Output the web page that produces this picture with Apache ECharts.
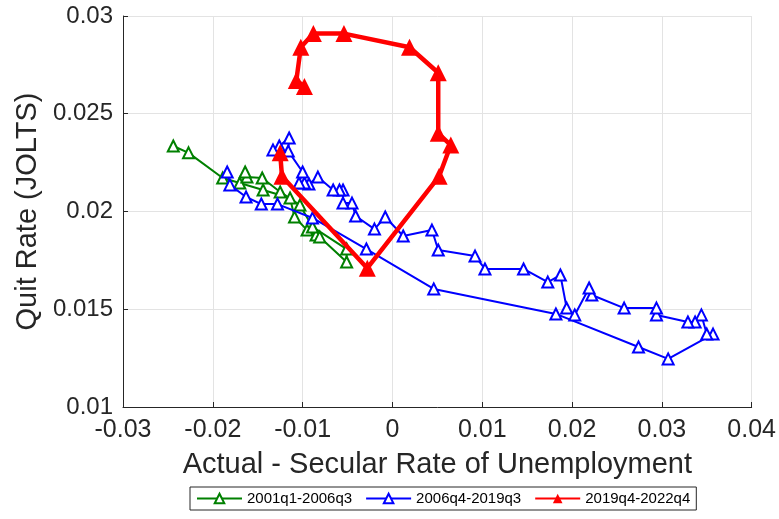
<!DOCTYPE html>
<html>
<head>
<meta charset="utf-8">
<script src="https://cdn.jsdelivr.net/npm/echarts@6/dist/echarts.min.js"></script>
<style>
  html, body { margin: 0; padding: 0; background: #ffffff; }
  #chart { width: 779px; height: 519px; }
</style>
</head>
<body>
<div id="chart"></div>
<script>
// Unemployment gap (actual - secular) vs. JOLTS quit rate, by period
const seriesNames = ['2001q1-2006q3', '2006q4-2019q3', '2019q4-2022q4'];

const gap2001 = [-0.0244, -0.0227, -0.0189, -0.0170, -0.0144, -0.0114, -0.0109, -0.0095, -0.0085, -0.0081,
                 -0.0051, -0.0051, -0.0089, -0.0103, -0.0125, -0.0145, -0.0162, -0.0164];
const quit2001 = [0.02335, 0.0230, 0.02171, 0.02146, 0.02110, 0.02069, 0.01972, 0.01905, 0.01880, 0.01870,
                  0.01742, 0.01808, 0.01921, 0.02033, 0.02100, 0.02171, 0.02176, 0.02202];

const gap2006 = [-0.0184, -0.0181, -0.0163, -0.0146, -0.0128, -0.0089, -0.0029, 0.0046, 0.0182, 0.0274,
                 0.0307, 0.0357, 0.0350, 0.0344, 0.0337, 0.0329, 0.0294, 0.0294, 0.0258, 0.0222,
                 0.0219, 0.0203, 0.0194, 0.0187, 0.0173, 0.0146, 0.0103, 0.0092, 0.0051, 0.0044,
                 0.0012, -0.0008, -0.0020, -0.0041, -0.0045, -0.0055, -0.0055, -0.0059, -0.0066, -0.0083,
                 -0.0093, -0.0098, -0.0104, -0.0100, -0.0116, -0.0115, -0.0126, -0.0133];
const quit2006 = [0.02202, 0.02136, 0.02074, 0.02038, 0.02038, 0.01967, 0.01808, 0.01604, 0.01476, 0.01307,
                  0.01246, 0.01373, 0.01373, 0.01471, 0.01435, 0.01435, 0.01471, 0.01506, 0.01506, 0.01573,
                  0.01609, 0.01471, 0.01506, 0.01675, 0.01639, 0.01706, 0.01706, 0.01772, 0.01803, 0.01905,
                  0.01875, 0.01972, 0.01910, 0.01977, 0.02043, 0.02043, 0.02110, 0.02110, 0.02110, 0.02176,
                  0.02141, 0.02146, 0.02146, 0.02202, 0.02309, 0.02376, 0.02335, 0.02315];

const gap2019 = [-0.0125, -0.0123, -0.0028, 0.0052, 0.0065, 0.0051, 0.0051, 0.0019, -0.0054, -0.0088,
                 -0.0102, -0.0107, -0.0098];
const quit2019 = [0.0230, 0.0218, 0.0171, 0.0218, 0.0234, 0.0240, 0.0271, 0.0284, 0.0291, 0.0291,
                  0.0284, 0.0267, 0.0264];

const xTicks = [-0.03, -0.02, -0.01, 0, 0.01, 0.02, 0.03, 0.04];
const yTicks = [0.01, 0.015, 0.02, 0.025, 0.03];

const pairs = (xs, ys) => xs.map((x, i) => [x, ys[i]]);
const tickText = v => String(parseFloat(v.toFixed(4)));

const FONT = "'Liberation Sans', Arial, Helvetica, sans-serif";
const INK = '#262626';

const chart = echarts.init(document.getElementById('chart'), null, { renderer: 'canvas' });

chart.setOption({
  backgroundColor: '#ffffff',
  animation: false,
  textStyle: { fontFamily: FONT },
  grid: { left: 123, right: 27, top: 16, bottom: 112, containLabel: false },
  xAxis: {
    type: 'value',
    min: xTicks[0], max: xTicks[xTicks.length - 1], interval: 0.01,
    name: 'Actual - Secular Rate of Unemployment',
    nameLocation: 'middle', nameGap: 43,
    nameTextStyle: { fontSize: 29, color: INK, fontFamily: FONT },
    axisLine: { show: true, onZero: false, lineStyle: { color: INK, width: 1 } },
    axisTick: { show: true, inside: true, length: 5, lineStyle: { color: INK } },
    axisLabel: { fontSize: 25, color: INK, margin: 11, formatter: tickText, fontFamily: FONT },
    splitLine: { show: true, lineStyle: { color: '#e3e3e3', width: 1 } }
  },
  yAxis: {
    type: 'value',
    min: yTicks[0], max: yTicks[yTicks.length - 1], interval: 0.005,
    name: 'Quit Rate (JOLTS)',
    nameLocation: 'middle', nameGap: 68, nameRotate: 90,
    nameTextStyle: { fontSize: 29, color: INK, fontFamily: FONT },
    axisLine: { show: true, onZero: false, lineStyle: { color: INK, width: 1 } },
    axisTick: { show: true, inside: true, length: 5, lineStyle: { color: INK } },
    axisLabel: { fontSize: 24, color: INK, margin: 10, formatter: tickText, fontFamily: FONT },
    splitLine: { show: true, lineStyle: { color: '#e3e3e3', width: 1 } }
  },
  legend: {
    data: seriesNames,
    left: 190, top: 487,
    orient: 'horizontal',
    itemWidth: 45, itemHeight: 12, itemGap: 13,
    padding: [4, 6, 4, 6],
    borderColor: INK, borderWidth: 1,
    textStyle: { fontSize: 15, color: '#000000', fontFamily: FONT }
  },
  series: [
    {
      name: seriesNames[0], type: 'line',
      data: pairs(gap2001, quit2001),
      symbol: 'triangle', symbolSize: 11,
      lineStyle: { color: '#008000', width: 2 },
      itemStyle: { color: '#ffffff', borderColor: '#008000', borderWidth: 2 },
      z: 2
    },
    {
      name: seriesNames[1], type: 'line',
      data: pairs(gap2006, quit2006),
      symbol: 'triangle', symbolSize: 11,
      lineStyle: { color: '#0000ff', width: 2 },
      itemStyle: { color: '#ffffff', borderColor: '#0000ff', borderWidth: 2 },
      z: 3
    },
    {
      name: seriesNames[2], type: 'line',
      data: pairs(gap2019, quit2019),
      symbol: 'triangle', symbolSize: 17,
      lineStyle: { color: '#ff0000', width: 4.5 },
      itemStyle: { color: '#ff0000', borderColor: '#ff0000', borderWidth: 0 },
      z: 4
    }
  ]
});
</script>
</body>
</html>
